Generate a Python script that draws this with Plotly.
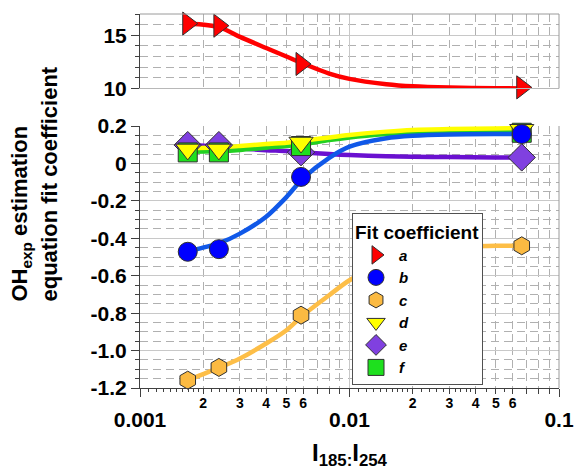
import plotly.graph_objects as go

# ---- data ----
x_pts = [0.00169, 0.00238, 0.00587, 0.0664]
a_pts = [16.1, 15.9, 12.3, 10.1]
b_pts = [-0.472, -0.458, -0.072, 0.157]
c_pts = [-1.158, -1.09, -0.811, -0.44]
d_pts = [0.075, 0.075, 0.112, 0.18]
e_pts = [0.098, 0.098, 0.06, 0.032]
f_pts = [0.059, 0.059, 0.093, 0.164]

# fitted curves
x_fit = [0.0017, 0.0024, 0.003, 0.004, 0.005, 0.006, 0.008, 0.01, 0.015, 0.02, 0.03, 0.05, 0.066]
a_fit = [16.1, 15.75, 14.85, 13.8, 13.0, 12.35, 11.4, 10.9, 10.4, 10.2, 10.08, 10.02, 10.0]
b_fit = [-0.47, -0.425, -0.375, -0.285, -0.18, -0.08, 0.03, 0.09, 0.135, 0.148, 0.155, 0.157, 0.157]
c_fit = [-1.158, -1.09, -1.042, -0.962, -0.891, -0.811, -0.704, -0.624, -0.53, -0.48, -0.45, -0.44, -0.44]
d_fit = [0.081, 0.086, 0.093, 0.104, 0.111, 0.121, 0.139, 0.152, 0.17, 0.179, 0.184, 0.187, 0.188]
e_fit = [0.098, 0.089, 0.080, 0.071, 0.066, 0.059, 0.05, 0.045, 0.039, 0.036, 0.034, 0.032, 0.032]
f_fit = [0.062, 0.066, 0.072, 0.084, 0.093, 0.103, 0.125, 0.139, 0.157, 0.166, 0.173, 0.177, 0.178]

series_names = ["a", "b", "c", "d", "e", "f"]

x_major = [0.001, 0.01, 0.1]
x_major_text = ["0.001", "0.01", "0.1"]
x_minor = [k * 10 ** p for p in (-3, -2) for k in range(2, 10)]
x_lbl = [k * 10 ** p for p in (-3, -2) for k in range(2, 7)]
x_lbl_text = [str(k) for p in (-3, -2) for k in range(2, 7)]
x_fine = [m * 10 ** p for p in (-3, -2) for m in
          (1.1, 1.2, 1.3, 1.4, 1.5, 1.6, 1.7, 1.8, 1.9, 2.2, 2.4, 2.6, 2.8, 3.2, 3.4, 3.6, 3.8, 4.5, 5.5)]

y_ticks = [-1.2, -1.0, -0.8, -0.6, -0.4, -0.2, 0, 0.2]
y_ticks_text = ["-1.2", "-1.0", "-0.8", "-0.6", "-0.4", "-0.2", "0", "0.2"]
y2_ticks = [10, 15]
y2_ticks_text = ["10", "15"]

FONT = "Liberation Sans, Arial, sans-serif"
EDGE = "#404040"
GRID = "#c8c8c8"
MGRID = "#b0b0b0"
DASH = "8px,5px"

fig = go.Figure()

# fit lines (drawn first so markers sit on top)
lines = [
    ("c", c_fit, "#FDBE47", "x", "y"),
    ("a", a_fit, "#FF0000", "x2", "y2"),
    ("e", e_fit, "#6A10D0", "x", "y"),
    ("f", f_fit, "#22D022", "x", "y"),
    ("d", d_fit, "#FFFF00", "x", "y"),
    ("b", b_fit, "#1058E8", "x", "y"),
]
for name, yv, col, xa, ya in lines:
    fig.add_trace(go.Scatter(x=x_fit, y=yv, mode="lines", xaxis=xa, yaxis=ya,
                             line=dict(color=col, width=4.5, shape="spline", smoothing=0.8),
                             showlegend=False, hoverinfo="skip"))

markers = [
    ("a", a_pts, "triangle-right", "#FF0000", 20, "x2", "y2", 1),
    ("c", c_pts, "hexagon", "#FBBA42", 18, "x", "y", 3),
    ("e", e_pts, "diamond", "#8040E0", 21, "x", "y", 5),
    ("f", f_pts, "square", "#1EE01E", 19, "x", "y", 6),
    ("d", d_pts, "triangle-down", "#FFFF00", 21, "x", "y", 4),
    ("b", b_pts, "circle", "#0000FF", 19, "x", "y", 2),
]
for name, yv, sym, col, sz, xa, ya, rank in markers:
    fig.add_trace(go.Scatter(x=x_pts, y=yv, mode="markers", xaxis=xa, yaxis=ya,
                             name="<b><i>%s</i></b>" % name, legendrank=rank,
                             marker=dict(symbol=sym, size=sz, color=col,
                                         line=dict(color="#303030", width=1)),
                             cliponaxis=False))

# dummy traces so overlay axes are drawn
fig.add_trace(go.Scatter(x=[0.002], y=[None], xaxis="x3", yaxis="y", showlegend=False, hoverinfo="skip"))
fig.add_trace(go.Scatter(x=[0.002], y=[None], xaxis="x4", yaxis="y", showlegend=False, hoverinfo="skip"))

bold = dict(family=FONT, color="black", weight="bold")
TOPD = [0.801, 1.0]
BOTD = [0.0, 0.7005]

common_x = dict(type="log", range=[-3, -1], zeroline=False, automargin=False)

fig.update_layout(
    width=574, height=471,
    margin=dict(l=140, r=15, t=14, b=83, autoexpand=False),
    paper_bgcolor="white", plot_bgcolor="white",
    font=dict(family=FONT, color="black"),
    xaxis=dict(**common_x, domain=[0, 1], anchor="y",
               tickmode="array", tickvals=x_major, ticktext=x_major_text,
               ticks="outside", ticklen=8, tickcolor=EDGE, tickwidth=1,
               showline=True, linecolor=EDGE, linewidth=1,
               showgrid=True, gridcolor=GRID, gridwidth=1,
               tickfont=dict(size=21, **bold), ticklabelstandoff=5,
               minor=dict(tickmode="array", tickvals=x_minor, ticks="outside", ticklen=5,
                          tickcolor=EDGE, showgrid=True, gridcolor=MGRID, griddash=DASH)),
    xaxis2=dict(**common_x, domain=[0, 1], anchor="y2", matches="x",
                tickmode="array", tickvals=x_major, showticklabels=False, ticks="",
                showline=True, linecolor="#b8b8b8", linewidth=1,
                showgrid=True, gridcolor=GRID,
                minor=dict(tickmode="array", tickvals=x_minor, ticks="",
                           showgrid=True, gridcolor=MGRID, griddash=DASH)),
    xaxis3=dict(**common_x, overlaying="x", anchor="y",
                tickmode="array", tickvals=x_lbl, ticktext=x_lbl_text, ticks="",
                showgrid=False, showline=False,
                tickfont=dict(size=14, **bold), ticklabelstandoff=5),
    xaxis4=dict(**common_x, overlaying="x", anchor="y",
                tickmode="array", tickvals=x_fine, ticks="outside", ticklen=3,
                tickcolor=EDGE, showticklabels=False, showgrid=False, showline=False),
    yaxis=dict(domain=BOTD, anchor="x", range=[-1.2, 0.2], zeroline=False, automargin=False,
               tickmode="array", tickvals=y_ticks, ticktext=y_ticks_text,
               ticks="outside", ticklen=8, tickcolor=EDGE,
               showline=True, linecolor=EDGE, linewidth=1,
               showgrid=True, gridcolor=GRID,
               tickfont=dict(size=21, **bold), ticklabelstandoff=0,
               minor=dict(dtick=0.05, tick0=0, ticks="outside", ticklen=4, tickcolor=EDGE,
                          showgrid=True, gridcolor=MGRID, griddash=DASH)),
    yaxis2=dict(domain=TOPD, anchor="x2", range=[10, 17], zeroline=False, automargin=False,
                tickmode="array", tickvals=y2_ticks, ticktext=y2_ticks_text,
                ticks="outside", ticklen=8, tickcolor=EDGE,
                showline=True, linecolor=EDGE, linewidth=1,
                showgrid=True, gridcolor=GRID,
                tickfont=dict(size=21, **bold), ticklabelstandoff=0,
                minor=dict(dtick=1, tick0=10, ticks="outside", ticklen=4, tickcolor=EDGE,
                           showgrid=True, gridcolor=MGRID, griddash=DASH)),
    legend=dict(x=0.506, y=0.468, xanchor="left", yanchor="top",
                bgcolor="white", bordercolor="#505050", borderwidth=1,
                font=dict(size=15, family=FONT, color="black"),
                title=dict(text="<b>Fit coefficient</b>", font=dict(size=19, family=FONT, color="black")),
                itemsizing="trace", traceorder="normal", itemwidth=36),
    showlegend=True,
)

frame = "#9a9a9a"
fig.add_shape(type="line", xref="paper", yref="paper", x0=0, x1=1, y0=1, y1=1,
              line=dict(color=frame, width=1))
fig.add_shape(type="line", xref="paper", yref="paper", x0=1, x1=1, y0=TOPD[0], y1=1,
              line=dict(color=frame, width=1))
fig.add_shape(type="line", xref="paper", yref="paper", x0=1, x1=1, y0=0, y1=BOTD[1],
              line=dict(color=frame, width=1))

fig.add_annotation(text="OH<sub>exp</sub> estimation", textangle=-90, xref="paper", yref="paper",
                   x=-0.283, y=0.227, xanchor="center", yanchor="bottom", showarrow=False,
                   font=dict(size=22, **bold))
fig.add_annotation(text="equation fit coefficient", textangle=-90, xref="paper", yref="paper",
                   x=-0.215, y=0.227, xanchor="center", yanchor="bottom", showarrow=False,
                   font=dict(size=22, **bold))
fig.add_annotation(text="I<sub>185:</sub>I<sub>254</sub>", xref="paper", yref="paper",
                   x=0.501, y=-0.179, xanchor="center", yanchor="middle", showarrow=False,
                   font=dict(size=24, **bold))

fig.write_html("out.html", config={"displayModeBar": False},
               post_script="document.body.style.margin='0';document.body.style.padding='0';")
